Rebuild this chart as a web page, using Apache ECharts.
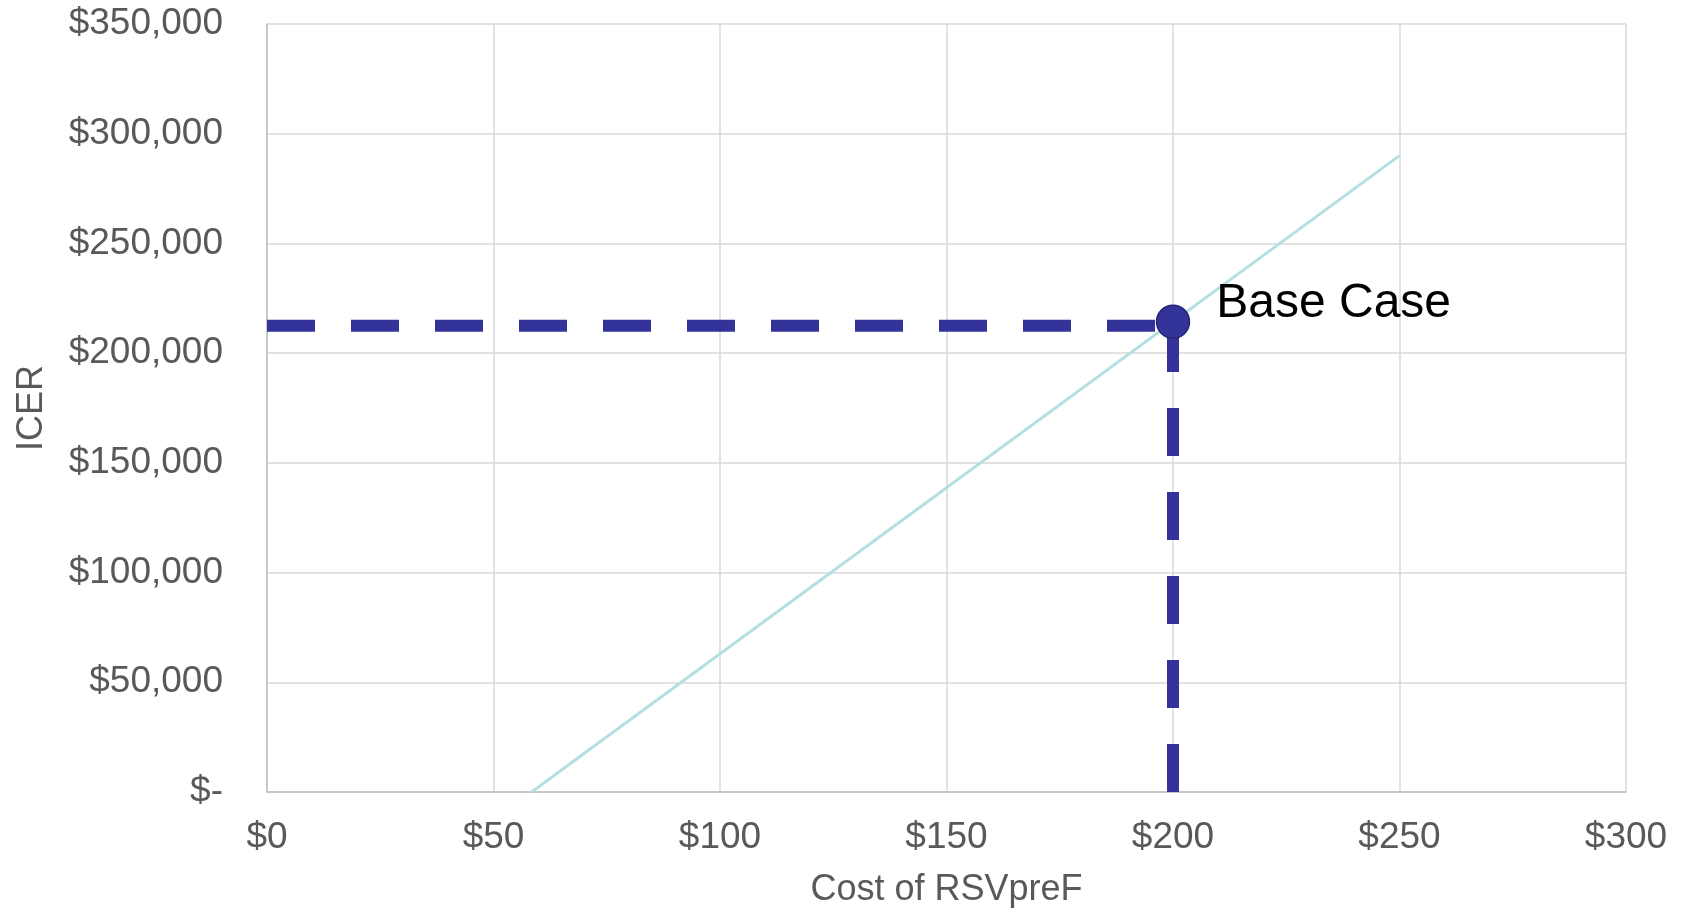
<!DOCTYPE html>
<html>
<head>
<meta charset="utf-8">
<title>ICER vs Cost of RSVpreF</title>
<script src="https://cdn.jsdelivr.net/npm/echarts@6/dist/echarts.min.js"></script>
<style>
  html, body { margin: 0; padding: 0; background: #ffffff; }
  #chart { width: 1683px; height: 908px; }
</style>
</head>
<body>
<div id="chart"></div>
<script>
// One-way sensitivity: ICER as a function of the RSVpreF price
const costPoints = [58.4, 250];          // $ per dose
const icerPoints = [0, 290000];          // $ per QALY

// Base case price and its ICER
const baseCost = [200];
const baseIcer = [214300];
const guideIcer = 212500;                // level of the dashed reference lines

// Axis ranges and tick spacing
const xTicks = { min: 0, max: 300, step: 50 };
const yTicks = { min: 0, max: 350000, step: 50000 };

const axisText = '#595959';
const fontFamily = 'Liberation Sans, Arial, sans-serif';

const chart = echarts.init(document.getElementById('chart'), null, { renderer: 'canvas' });

const dashStyle = {
  color: '#333399',
  width: 12,
  type: [48, 36],
  cap: 'butt'
};

chart.setOption({
  animation: false,
  backgroundColor: '#ffffff',
  grid: {
    left: 267, right: 57, top: 24, bottom: 116,
    containLabel: false,
    outerBoundsMode: 'none'
  },
  xAxis: {
    type: 'value',
    min: xTicks.min, max: xTicks.max, interval: xTicks.step,
    name: 'Cost of RSVpreF',
    nameLocation: 'middle',
    nameGap: 80,
    nameTextStyle: { color: axisText, fontSize: 36, fontFamily },
    axisLine: { show: true, lineStyle: { color: '#BFBFBF', width: 1.5 } },
    axisTick: { show: false },
    axisLabel: {
      color: axisText, fontSize: 37, fontFamily, margin: 27,
      formatter: v => '$' + v
    },
    splitLine: { show: true, lineStyle: { color: '#D9D9D9', width: 1.5 } }
  },
  yAxis: {
    type: 'value',
    min: yTicks.min, max: yTicks.max, interval: yTicks.step,
    name: 'ICER',
    nameLocation: 'middle',
    nameGap: 217,
    nameRotate: 90,
    nameTextStyle: { color: axisText, fontSize: 36, fontFamily },
    axisLine: { show: true, lineStyle: { color: '#BFBFBF', width: 1.5 } },
    axisTick: { show: false },
    axisLabel: {
      color: axisText, fontSize: 37, fontFamily, margin: 44,
      formatter: v => v === 0 ? '$-' : '$' + v.toLocaleString('en-US')
    },
    splitLine: { show: true, lineStyle: { color: '#D9D9D9', width: 1.5 } }
  },
  series: [
    {
      name: 'ICER',
      type: 'line',
      data: costPoints.map((c, i) => [c, icerPoints[i]]),
      symbol: 'none',
      lineStyle: { color: '#B4DFE1', width: 3 },
      z: 2
    },
    {
      name: 'Base price',
      type: 'line',
      data: [[baseCost[0], 0], [baseCost[0], guideIcer]],
      symbol: 'none',
      lineStyle: dashStyle,
      z: 3
    },
    {
      name: 'Base ICER',
      type: 'line',
      data: [[0, guideIcer], [baseCost[0], guideIcer]],
      symbol: 'none',
      lineStyle: dashStyle,
      z: 3
    },
    {
      name: 'Base Case',
      type: 'scatter',
      data: baseCost.map((c, i) => [c, baseIcer[i]]),
      symbol: 'circle',
      symbolSize: 33,
      itemStyle: { color: '#333399', borderColor: '#262673', borderWidth: 1.5, opacity: 1 },
      label: {
        show: true,
        formatter: 'Base Case',
        position: 'right',
        distance: 26,
        offset: [0, -18],
        color: '#000000',
        fontSize: 48,
        fontFamily
      },
      z: 5
    }
  ]
});
</script>
</body>
</html>
